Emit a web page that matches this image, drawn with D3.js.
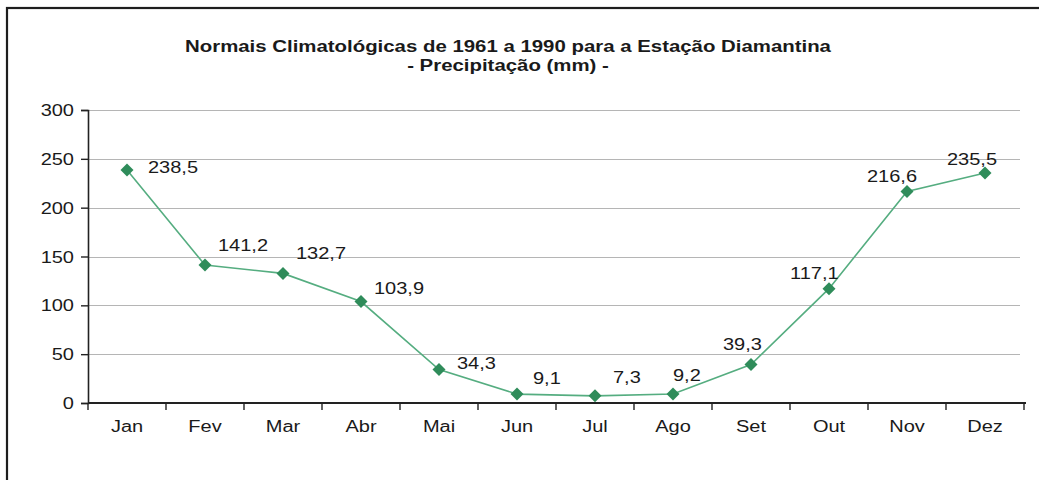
<!DOCTYPE html>
<html>
<meta charset="utf-8">
<script src="https://d3js.org/d3.v7.min.js"></script>
<style>
  body { margin: 0; background: #fff; }
  text { font-family: "Liberation Sans", Arial, sans-serif; fill: #1a1a1a; }
</style>
<body>
<div id="chart"></div>
<script>

// data
var months = ["Jan", "Fev", "Mar", "Abr", "Mai", "Jun", "Jul", "Ago", "Set", "Out", "Nov", "Dez"];
var precip = [238.5, 141.2, 132.7, 103.9, 34.3, 9.1, 7.3, 9.2, 39.3, 117.1, 216.6, 235.5];
var valueLabels = ["238,5", "141,2", "132,7", "103,9", "34,3", "9,1", "7,3", "9,2", "39,3", "117,1", "216,6", "235,5"];
var yTicks = [0, 50, 100, 150, 200, 250, 300];
var titleLines = ["Normais Climatológicas de 1961 a 1990 para a Estação Diamantina", "- Precipitação (mm) -"];

// where each value label sits relative to its marker (dx, dy)
var labelOffsets = [[21, -3], [13, -20], [13, -20], [13, -13], [18, -6], [16, -16],
                    [18, -18], [0, -19], [-28, -20], [-39, -15], [-40, -15], [-38, -14]];

var W = 1039, H = 480;
var sx = 1.25; // the picture is stretched sideways, so is the text

var svg = d3.select("#chart").append("svg")
    .attr("width", W)
    .attr("height", H);

// outer frame (only top and left show)
svg.append("rect")
    .attr("x", 7).attr("y", 8)
    .attr("width", W + 20).attr("height", H + 20)
    .attr("fill", "none")
    .attr("stroke", "#1e1e1e")
    .attr("stroke-width", 2.2);

var x = d3.scaleBand()
    .domain(months)
    .range([88, 1024]);

var y = d3.scaleLinear()
    .domain([0, 300])
    .range([403, 110]);

// put a stretched text at (px, py)
function stext(sel, px, py, k) {
  return sel.attr("x", 0).attr("y", 0)
    .attr("transform", "translate(" + px + "," + py + ") scale(" + (k || sx) + ",1)");
}

// title
titleLines.forEach(function(t, i) {
  stext(svg.append("text"), 508, 52 + i * 19, 1.2)
    .attr("text-anchor", "middle")
    .style("font-size", "17px")
    .style("font-weight", "bold")
    .text(t);
});

// gridlines
svg.append("g").selectAll("line")
  .data(yTicks.slice(1))
  .enter().append("line")
    .attr("x1", 88).attr("x2", 1020)
    .attr("y1", function(d) { return Math.round(y(d)) + 0.5; })
    .attr("y2", function(d) { return Math.round(y(d)) + 0.5; })
    .attr("stroke", "#b5b5b5")
    .attr("stroke-width", 1.2);

// y axis
var yAxis = svg.append("g")
    .attr("transform", "translate(88,0)")
    .call(d3.axisLeft(y).tickValues(yTicks).tickSize(7).tickPadding(0).tickFormat(d3.format("d")));
yAxis.select(".domain").attr("stroke", "#222").attr("stroke-width", 1.6);
yAxis.selectAll(".tick line").attr("stroke", "#222").attr("stroke-width", 1.4);
yAxis.selectAll(".tick text").each(function() {
  stext(d3.select(this), -14, 0)
    .attr("dy", "0.35em")
    .attr("text-anchor", "end")
    .attr("fill", "#1a1a1a")
    .style("font-size", "16px");
});

// x axis: ticks sit between the categories
var xa = svg.append("g");
xa.append("line")
    .attr("x1", 88).attr("x2", 1026)
    .attr("y1", 403).attr("y2", 403)
    .attr("stroke", "#222").attr("stroke-width", 2);
xa.selectAll("line.tk")
  .data(months.concat(["_end"]))
  .enter().append("line")
    .attr("class", "tk")
    .attr("x1", function(d, i) { return i < months.length ? x(d) : x.range()[1]; })
    .attr("x2", function(d, i) { return i < months.length ? x(d) : x.range()[1]; })
    .attr("y1", 403).attr("y2", 410)
    .attr("stroke", "#222").attr("stroke-width", 1.4);
xa.selectAll("text")
  .data(months)
  .enter().append("text")
    .each(function(d) {
      stext(d3.select(this), x(d) + x.bandwidth() / 2, 432);
    })
    .attr("text-anchor", "middle")
    .style("font-size", "16px")
    .text(function(d) { return d; });

// line
var line = d3.line()
    .x(function(d, i) { return x(months[i]) + x.bandwidth() / 2; })
    .y(function(d) { return y(d); });

svg.append("path")
    .datum(precip)
    .attr("d", line)
    .attr("fill", "none")
    .attr("stroke", "#55ad80")
    .attr("stroke-width", 1.6);

// diamond markers
svg.append("g").selectAll("path")
  .data(precip)
  .enter().append("path")
    .attr("transform", function(d, i) {
      return "translate(" + (x(months[i]) + x.bandwidth() / 2) + "," + y(d) + ")";
    })
    .attr("d", "M0,-6.5L6.5,0L0,6.5L-6.5,0Z")
    .attr("fill", "#2f8c5a");

// value labels
svg.append("g").selectAll("text")
  .data(precip)
  .enter().append("text")
    .each(function(d, i) {
      var cx = x(months[i]) + x.bandwidth() / 2;
      stext(d3.select(this), cx + labelOffsets[i][0], y(d) + labelOffsets[i][1]);
    })
    .attr("dy", "0.35em")
    .style("font-size", "16px")
    .text(function(d, i) { return valueLabels[i]; });

</script>
</body>
</html>
